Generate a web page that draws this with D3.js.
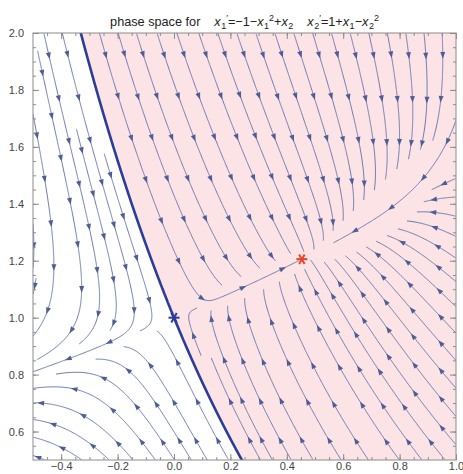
<!DOCTYPE html>
<html>
<head>
<meta charset="utf-8">
<script src="https://cdn.jsdelivr.net/npm/d3@7"></script>
<style>
  body { margin: 0; background: #fff; }
  text { font-family: "Liberation Sans", Arial, sans-serif; }
</style>
</head>
<body>
<div id="chart"></div>
<script>
// axis ranges and ticks
const xDomain = [-0.5, 1.0];
const yDomain = [0.5, 2.0];
const xTicks = [-0.4, -0.2, 0.0, 0.2, 0.4, 0.6, 0.8, 1.0];
const yTicks = [0.6, 0.8, 1.0, 1.2, 1.4, 1.6, 1.8, 2.0];
const xMinor = d3.range(-0.45, 1.001, 0.05);
const yMinor = d3.range(0.55, 2.001, 0.05);

// equilibrium points: saddle (blue) and stable node (red)
const eqNames = ["saddle", "node"];
const eqX1 = [0.0, 0.4534];
const eqX2 = [1.0, 1.2056];
const eqColors = ["#2b3c9a", "#e8452c"];

// the system named in the title
function field(x1, x2) {
  return [-1 - x1 * x1 + x2, 1 + x1 - x2 * x2];
}

const W = 463, H = 474;
const margin = {top: 33, right: 7, bottom: 14, left: 33};

const x = d3.scaleLinear().domain(xDomain).range([margin.left, W - margin.right]);
const y = d3.scaleLinear().domain(yDomain).range([H - margin.bottom, margin.top]);

const svg = d3.select("#chart")
    .append("svg")
    .attr("width", W)
    .attr("height", H);

const px0 = x(xDomain[0]), px1 = x(xDomain[1]);
const py0 = y(yDomain[1]), py1 = y(yDomain[0]);

svg.append("defs").append("clipPath")
    .attr("id", "clip")
    .append("rect")
    .attr("x", px0).attr("y", py0)
    .attr("width", px1 - px0).attr("height", py1 - py0);

// ---- separatrix: stable manifold of the saddle, integrated backward in time
function branch(sign) {
  const lam = -1 - Math.SQRT2;
  const n = Math.hypot(1, lam);
  let p = [eqX1[0] + sign * 1e-4 / n, eqX2[0] + sign * 1e-4 * lam / n];
  const pts = [[eqX1[0], eqX2[0]], p];
  const dt = 0.0005;
  for (let i = 0; i < 100000; i++) {
    const k1 = field(p[0], p[1]);
    const k2 = field(p[0] - dt / 2 * k1[0], p[1] - dt / 2 * k1[1]);
    const k3 = field(p[0] - dt / 2 * k2[0], p[1] - dt / 2 * k2[1]);
    const k4 = field(p[0] - dt * k3[0], p[1] - dt * k3[1]);
    p = [p[0] - dt / 6 * (k1[0] + 2 * k2[0] + 2 * k3[0] + k4[0]),
         p[1] - dt / 6 * (k1[1] + 2 * k2[1] + 2 * k3[1] + k4[1])];
    pts.push(p);
    if (p[0] < xDomain[0] - 0.05 || p[0] > xDomain[1] + 0.05 ||
        p[1] < yDomain[0] - 0.05 || p[1] > yDomain[1] + 0.05) break;
  }
  return pts;
}
const upper = branch(-1);   // goes up-left
const lower = branch(1);    // goes down-right
const separatrix = upper.slice().reverse().concat(lower.slice(1));

// ---- evenly spaced streamlines (pixel space)
const kx = x(1) - x(0), ky = y(0) - y(1);
function dir(px, py) {
  const f = field(x.invert(px), y.invert(py));
  const vx = f[0] * kx, vy = -f[1] * ky;
  const m = Math.hypot(vx, vy);
  return m < 1e-9 ? null : [vx / m, vy / m];
}

const dsep = 18, dtest = 10, step = 1;
const cols = Math.ceil((px1 - px0) / dsep) + 1, rows = Math.ceil((py1 - py0) / dsep) + 1;
const cells = Array.from({length: cols * rows}, () => []);
function addPts(pts) {
  pts.forEach(function(p) {
    const i = Math.floor((p[0] - px0) / dsep), j = Math.floor((p[1] - py0) / dsep);
    if (i >= 0 && j >= 0 && i < cols && j < rows) cells[j * cols + i].push(p);
  });
}
function tooClose(p, d) {
  const ci = Math.floor((p[0] - px0) / dsep), cj = Math.floor((p[1] - py0) / dsep);
  for (let j = cj - 1; j <= cj + 1; j++) {
    for (let i = ci - 1; i <= ci + 1; i++) {
      if (i < 0 || j < 0 || i >= cols || j >= rows) continue;
      for (const q of cells[j * cols + i]) {
        if ((q[0] - p[0]) ** 2 + (q[1] - p[1]) ** 2 < d * d) return true;
      }
    }
  }
  return false;
}
function inside(p) { return p[0] >= px0 && p[0] <= px1 && p[1] >= py0 && p[1] <= py1; }
const eqPx = eqX1.map((v, i) => [x(v), y(eqX2[i])]);
function nearEq(p, r) { return eqPx.some(e => Math.hypot(e[0] - p[0], e[1] - p[1]) < r); }

function trace(seed, sgn) {
  const pts = [];
  let p = seed;
  for (let i = 0; i < 3000; i++) {
    const d1 = dir(p[0], p[1]); if (!d1) break;
    const d2 = dir(p[0] + sgn * d1[0] * step / 2, p[1] + sgn * d1[1] * step / 2); if (!d2) break;
    if (d1[0] * d2[0] + d1[1] * d2[1] < 0.7) break;
    const q = [p[0] + sgn * d2[0] * step, p[1] + sgn * d2[1] * step];
    if (!inside(q) || nearEq(q, 3) || tooClose(q, dtest)) break;
    pts.push(q);
    p = q;
  }
  return pts;
}

const lines = [];
const queue = [];
const sepPx = separatrix.map(d => [x(d[0]), y(d[1])]).filter(inside);
addPts(sepPx);
queue.push(sepPx);

function trySeed(s) {
  if (!inside(s) || nearEq(s, 6) || tooClose(s, dsep * 0.95)) return;
  const fwd = trace(s, 1), bwd = trace(s, -1);
  const L = bwd.reverse().concat([s], fwd);
  if (L.length < 12) return;
  lines.push(L);
  addPts(L);
  queue.push(L);
}
function drain() {
  while (queue.length) {
    const L = queue.shift();
    for (let i = 0; i < L.length; i += 3) {
      const a = L[Math.max(i - 1, 0)], b = L[Math.min(i + 1, L.length - 1)];
      let tx = b[0] - a[0], ty = b[1] - a[1];
      const n = Math.hypot(tx, ty);
      if (!n) continue;
      tx /= n; ty /= n;
      trySeed([L[i][0] - ty * dsep, L[i][1] + tx * dsep]);
      trySeed([L[i][0] + ty * dsep, L[i][1] - tx * dsep]);
    }
  }
}
drain();
for (let gy = py0 + 4; gy < py1; gy += dsep / 2) {
  for (let gx = px0 + 4; gx < px1; gx += dsep / 2) {
    trySeed([gx, gy]);
    drain();
  }
}

// ---- drawing
const plot = svg.append("g").attr("clip-path", "url(#clip)");

// pink basin of the node: right of the separatrix
const basin = separatrix.concat([[xDomain[1] + 0.1, yDomain[0] - 0.1],
                                 [xDomain[1] + 0.1, yDomain[1] + 0.1]]);
plot.append("path")
    .datum(basin)
    .attr("fill", "#fbe3e6")
    .attr("d", d3.line().x(d => x(d[0])).y(d => y(d[1])).curve(d3.curveLinearClosed));

const streamColor = "#6b79ae";
plot.append("g")
    .selectAll("path")
    .data(lines)
    .join("path")
    .attr("fill", "none")
    .attr("stroke", streamColor)
    .attr("stroke-width", 1)
    .attr("d", d3.line());

// arrowheads along each streamline
const arrows = [];
lines.forEach(function(L) {
  const s = [0];
  for (let i = 1; i < L.length; i++) s.push(s[i - 1] + Math.hypot(L[i][0] - L[i - 1][0], L[i][1] - L[i - 1][1]));
  const len = s[s.length - 1];
  const at = [];
  for (let d = 22; d < len - 6; d += 44) at.push(d);
  if (!at.length) at.push(len / 2);
  at.forEach(function(d) {
    const i = Math.max(1, Math.min(L.length - 2, d3.bisectLeft(s, d)));
    const a = L[i - 1], b = L[i + 1];
    const n = Math.hypot(b[0] - a[0], b[1] - a[1]);
    if (n) arrows.push({p: L[i], t: [(b[0] - a[0]) / n, (b[1] - a[1]) / n]});
  });
});
plot.append("g")
    .selectAll("path")
    .data(arrows)
    .join("path")
    .attr("fill", "#4f5d96")
    .attr("d", function(a) {
      const [px, py] = a.p, [tx, ty] = a.t, h = 3.4, w = 2.5;
      return "M" + (px + tx * h) + "," + (py + ty * h) +
             "L" + (px - tx * h - ty * w) + "," + (py - ty * h + tx * w) +
             "L" + (px - tx * h + ty * w) + "," + (py - ty * h - tx * w) + "Z";
    });

// separatrix
plot.append("path")
    .datum(separatrix)
    .attr("fill", "none")
    .attr("stroke", "#2b3c9a")
    .attr("stroke-width", 2.6)
    .attr("d", d3.line().x(d => x(d[0])).y(d => y(d[1])));

// equilibria as asterisks
eqNames.forEach(function(nm, i) {
  const g = svg.append("g").attr("transform", `translate(${x(eqX1[i])},${y(eqX2[i])})`);
  [0, 60, 120].forEach(function(ang) {
    const r = 5.5, c = Math.cos(ang * Math.PI / 180), sn = Math.sin(ang * Math.PI / 180);
    g.append("line")
        .attr("x1", -r * c).attr("y1", -r * sn)
        .attr("x2", r * c).attr("y2", r * sn)
        .attr("stroke", eqColors[i])
        .attr("stroke-width", 2);
  });
});

// ---- frame and ticks
const frameColor = "#8c8c8c";
const fmt = d3.format(".1f");
function styleAxis(g) {
  g.select(".domain").remove();
  g.selectAll("line").attr("stroke", frameColor);
  g.selectAll("text").attr("fill", "#444").style("font-size", "11px");
}
svg.append("g").attr("transform", `translate(0,${py1})`)
    .call(d3.axisBottom(x).tickValues(xTicks).tickFormat(fmt).tickSize(-6).tickPadding(2.5)).call(styleAxis);
svg.append("g").attr("transform", `translate(0,${py1})`)
    .call(d3.axisBottom(x).tickValues(xMinor).tickFormat("").tickSize(-3)).call(styleAxis);
svg.append("g").attr("transform", `translate(0,${py0})`)
    .call(d3.axisTop(x).tickValues(xTicks).tickFormat("").tickSize(-6)).call(styleAxis);
svg.append("g").attr("transform", `translate(0,${py0})`)
    .call(d3.axisTop(x).tickValues(xMinor).tickFormat("").tickSize(-3)).call(styleAxis);
svg.append("g").attr("transform", `translate(${px0},0)`)
    .call(d3.axisLeft(y).tickValues(yTicks).tickFormat(fmt).tickSize(-6).tickPadding(9)).call(styleAxis);
svg.append("g").attr("transform", `translate(${px0},0)`)
    .call(d3.axisLeft(y).tickValues(yMinor).tickFormat("").tickSize(-3)).call(styleAxis);
svg.append("g").attr("transform", `translate(${px1},0)`)
    .call(d3.axisRight(y).tickValues(yTicks).tickFormat("").tickSize(-6)).call(styleAxis);
svg.append("g").attr("transform", `translate(${px1},0)`)
    .call(d3.axisRight(y).tickValues(yMinor).tickFormat("").tickSize(-3)).call(styleAxis);

svg.append("rect")
    .attr("x", px0).attr("y", py0)
    .attr("width", px1 - px0).attr("height", py1 - py0)
    .attr("fill", "none")
    .attr("stroke", frameColor);

// ---- title with sub/superscripts
const titlePieces = [
  {t: "phase space for"}, {gap: 14},
  {t: "x", it: 1}, {t: "1", sub: 1}, {t: "′", sup: 1}, {t: "=−1−"},
  {t: "x", it: 1}, {t: "1", sub: 1}, {t: "2", sup: 1}, {t: "+"},
  {t: "x", it: 1}, {t: "2", sub: 1}, {gap: 14},
  {t: "x", it: 1}, {t: "2", sub: 1}, {t: "′", sup: 1}, {t: "=1+"},
  {t: "x", it: 1}, {t: "1", sub: 1}, {t: "−"},
  {t: "x", it: 1}, {t: "2", sub: 1}, {t: "2", sup: 1}
];
const title = svg.append("g");
let cx = 0;
titlePieces.forEach(function(p) {
  if (p.gap) { cx += p.gap; return; }
  const small = p.sub || p.sup;
  const t = title.append("text")
      .attr("x", cx)
      .attr("y", p.sub ? 3 : p.sup ? -5.5 : 0)
      .attr("fill", "#222")
      .style("font-size", small ? "9px" : "12.7px")
      .style("font-style", p.it ? "italic" : "normal")
      .text(p.t);
  cx += t.node().getComputedTextLength() + (p.it ? 0.5 : 0);
});
title.attr("transform", `translate(${(px0 + px1) / 2 - cx / 2},26)`);
</script>
</body>
</html>
